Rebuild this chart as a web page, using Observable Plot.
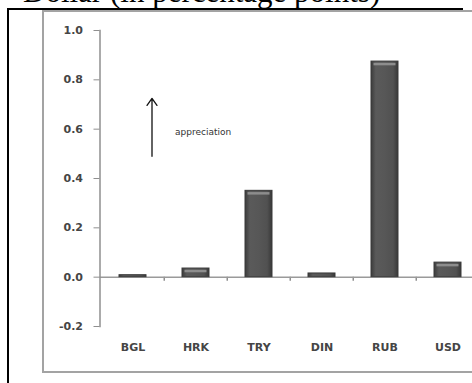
<!DOCTYPE html>
<html>
<head>
<meta charset="utf-8">
<script src="https://cdn.jsdelivr.net/npm/d3@7"></script>
<script src="https://cdn.jsdelivr.net/npm/@observablehq/plot@0.6"></script>
<style>
  html, body { margin: 0; padding: 0; width: 472px; height: 383px; overflow: hidden; background: #fff; }
  #title {
    position: absolute; left: 23px; top: -24px;
    font-family: "Liberation Serif", "Times New Roman", serif;
    font-size: 31px; line-height: 31px; white-space: nowrap; color: #000;
  }
  #frame {
    position: absolute; left: 7px; top: 8px; width: 454px; height: 400px;
    border-top: 2px solid #000; border-left: 2px solid #000;
  }
  #panel {
    position: absolute; left: 42px; top: 10px; width: 470px; height: 359px;
    border: 2px solid #a3a3a3;
  }
  #chart { position: absolute; left: 0; top: 0; }
</style>
</head>
<body>
<div id="title">Dollar (in percentage points)</div>
<div id="frame"></div>
<div id="panel"></div>
<div id="chart"></div>
<script>
// Change against the dollar, in percentage points
const currencies = ["BGL", "HRK", "TRY", "DIN", "RUB", "USD"];
const changes = [0.008, 0.035, 0.35, 0.015, 0.874, 0.059];
const yTicks = [-0.2, 0.0, 0.2, 0.4, 0.6, 0.8, 1.0];

// "appreciation" note with its upward arrow
const noteCurrency = ["BGL"];
const noteArrowFrom = [0.49];
const noteArrowTo = [0.725];
const noteLabelY = [0.588];
const noteText = ["appreciation"];

const rows = currencies.map((c, i) => ({currency: c, change: changes[i]}));
const notes = noteCurrency.map((c, i) => ({
  at: c, from: noteArrowFrom[i], to: noteArrowTo[i], labelY: noteLabelY[i], label: noteText[i]
}));

const W = 490, H = 383;
const mL = 99.5, mR = 9.5, mT = 30, mB = 57;
const step = (W - mL - mR) / currencies.length;

const axisFont = "'DejaVu Sans', Verdana, sans-serif";

const chart = Plot.plot({
  width: W,
  height: H,
  marginLeft: mL,
  marginRight: mR,
  marginTop: mT,
  marginBottom: mB,
  style: {background: "transparent", maxWidth: "none", overflow: "visible", fontFamily: axisFont},
  x: {domain: currencies, paddingInner: 0.575, paddingOuter: 0.2875, label: null},
  y: {domain: [-0.2, 1.0], label: null},
  marks: [
    // category separators on the zero line
    Plot.ruleX(currencies.slice(1), {x: d => d, y1: 0, y2: -0.017, dx: -step / 2, stroke: "#8f8f8f", strokeWidth: 1.5}),
    Plot.ruleY([0], {stroke: "#9a9a9a", strokeWidth: 1.5}),
    Plot.barY(rows, {x: "currency", y: "change", fill: "url(#barShade)", stroke: "#3a3a3a", strokeWidth: 1}),
    // lighter bevel along the top of each bar
    Plot.tickY(rows.filter(d => d.change > 0.03), {x: "currency", y: "change", dy: 2.5, stroke: "#8d8d8d", strokeWidth: 2.5, insetLeft: 2.5, insetRight: 2.5}),
    Plot.frame({anchor: "left", stroke: "#8f8f8f", strokeWidth: 1.5}),
    Plot.axisY({
      ticks: yTicks, tickFormat: d => d.toFixed(1), tickSize: 6, tickPadding: 11,
      stroke: "#8f8f8f", fill: "#454545", fontSize: 11, fontWeight: "bold", label: null
    }),
    Plot.axisX({tickSize: 0, tickPadding: 17, fill: "#454545", fontSize: 11, fontWeight: "bold", label: null}),
    Plot.arrow(notes, {x1: "at", x2: "at", y1: "from", y2: "to", dx: 19, stroke: "#111", strokeWidth: 1.3, headLength: 10, headAngle: 70}),
    Plot.text(notes, {x: "at", y: "labelY", text: "label", dx: 42, textAnchor: "start", fontSize: 9, fill: "#333"})
  ]
});

// horizontal shading for the bars
const ns = "http://www.w3.org/2000/svg";
const defs = document.createElementNS(ns, "defs");
defs.innerHTML = `<linearGradient id="barShade" x1="0" x2="1" y1="0" y2="0">
  <stop offset="0" stop-color="#3c3c3c"/>
  <stop offset="0.18" stop-color="#5a5a5a"/>
  <stop offset="0.5" stop-color="#575757"/>
  <stop offset="0.82" stop-color="#515151"/>
  <stop offset="1" stop-color="#383838"/>
</linearGradient>`;
chart.insertBefore(defs, chart.firstChild);

document.getElementById("chart").appendChild(chart);
</script>
</body>
</html>
